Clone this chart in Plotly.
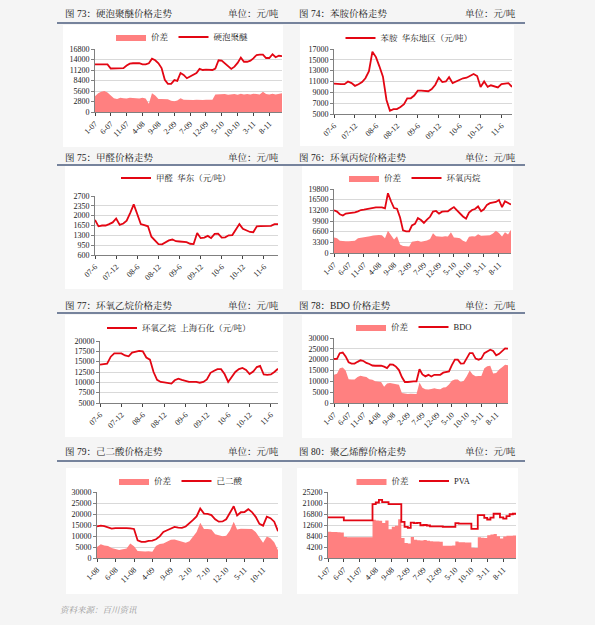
import plotly.graph_objects as go
import pandas as pd

W, H = 595, 625

# ---------------- data (monthly readings, 元/吨) ----------------
c73_line = [12700,12700,12700,12700,12700,11600,11600,11600,11600,11700,
            12400,12900,13000,13000,13000,12700,12700,13000,14200,13800,
            13000,11700,8600,7500,7500,8500,8300,10400,9900,9000,
            9500,9900,10400,11500,11200,11300,11200,11200,11600,13800,
            13700,12900,12200,11500,12100,13100,14500,13400,13400,13700,
            14300,15200,15300,15300,14400,14400,15400,14600,15000,14900]
c73_spread = [4200,5000,5400,5600,5200,4500,3700,3500,3800,3700,
              3600,3800,3700,3700,3600,3800,3600,2200,5000,4400,
              3500,3500,3400,3400,3000,2900,3100,3700,3300,3200,
              3300,3200,3300,3200,3200,3300,3200,3300,4700,4800,
              4700,4800,4600,4700,4800,4600,4900,4700,4800,4700,
              4900,4800,4700,5400,4800,4700,4900,4700,4800,5000]

c74_line = [10600,10500,10500,10500,11000,10700,10200,10500,10900,11600,
            12900,16500,15500,13800,11900,7600,5600,5900,5900,6300,
            6800,7900,7900,8400,9300,9300,9300,9200,9600,10400,
            11700,10900,11000,11800,10700,11000,11300,11600,11700,12000,
            12400,12000,10000,11000,10000,10300,10100,9900,10500,10600,
            10700,10000]

c75_line = [1850,1620,1650,1650,1700,1760,1900,1670,1720,1820,
            2100,2400,2050,1700,1660,1620,1250,1130,990,980,
            1050,1120,1150,1090,1080,1070,1060,1000,990,1380,
            1200,1220,1280,1200,1350,1360,1220,1230,1300,1310,
            1500,1700,1530,1460,1420,1410,1620,1630,1630,1630,
            1640,1700,1700]

c76_line = [13200,12800,12000,11600,12200,12300,12300,12600,12900,13300,
            13400,13600,13600,14000,14100,14100,14100,13800,18500,16000,
            13900,13700,11000,7000,6700,6700,8500,9000,10800,10200,
            9300,10300,11200,12800,13000,12200,12800,12900,12900,13600,
            14200,13200,12200,11300,10600,12500,13300,13600,14400,12900,
            13500,14900,15400,15500,15800,16400,14200,16000,15600,15000]
c76_spread = [4800,4600,3800,3600,3600,3600,3700,3800,4600,4700,
              5000,5100,5200,5400,5600,5600,5500,4600,6900,5400,
              4200,5200,2600,2200,2100,2000,3500,3600,3800,3500,
              3600,3900,4300,6100,5200,5100,5000,5200,5100,6400,
              4800,4700,4600,3800,3400,5000,5200,5100,5800,5300,
              5400,5500,5500,6000,6900,6200,5100,6400,5700,7200]

c77_line = [14300,14400,14500,16200,17000,17000,17000,16500,16300,17200,
            17500,17600,17500,16000,15500,12500,10600,10100,10000,9800,
            9700,10500,10900,10600,10400,10100,10100,10100,9900,10100,
            10700,12300,12800,13200,13200,12000,10100,11400,12500,13200,
            13500,13000,12000,12600,13700,14000,11900,11800,11900,12500,
            13300]

c78_line = [20300,20400,23000,23300,21500,18800,18200,18200,19000,19700,
            19400,18500,18000,17300,17200,17200,17200,16800,16100,17800,
            17700,16800,15200,12000,9700,9700,10000,10000,10000,15600,
            13200,12300,13000,12200,13000,13000,13000,14000,14300,14600,
            17500,20000,20000,18200,18300,20500,23000,23000,20500,20000,
            20500,23000,23800,24600,24000,22000,22700,24000,25200,25100]
c78_spread = [13000,13500,16000,16400,15000,11000,10800,10800,12000,12600,
              12200,12000,11000,10700,10000,9700,9700,7500,9000,9200,
              8900,8700,8400,4600,4200,4100,4300,4100,4200,9500,
              7000,6300,6200,6500,6800,6500,6300,7200,7300,8500,
              10300,10800,10800,9700,10300,12300,15000,13200,12300,12500,
              12500,16000,17000,17200,13600,13800,15500,16500,17700,17400]

c79_line = [14400,14700,14500,13800,13400,13600,13700,13700,13600,13500,
            13200,8000,7300,7300,7800,7900,8500,9800,11800,12600,
            13500,14100,13800,13700,14300,15700,17200,18900,22500,20200,
            20100,19500,17600,16500,16600,17600,20500,23500,19300,20800,
            20900,22200,20900,18700,15500,14700,18800,18100,16500,12200]
c79_spread = [5000,6300,5700,5500,4500,4100,3600,4000,4300,6600,
              5300,3200,3000,3000,3100,2800,5400,6400,6600,7500,
              8300,8400,8000,7400,6900,7600,9800,11800,16000,13200,
              13200,12900,10800,10400,9900,10100,12500,16500,13000,13300,
              13300,13500,13200,11800,9200,6900,9800,9000,7200,3500]

c80_line = [15500,15500,15500,15500,15500,14400,14400,14400,14400,14400,
            14400,14400,14400,14400,20600,21200,22200,21300,21300,20600,
            20600,20600,20600,13800,11900,11500,13500,13300,13400,12500,
            12600,12400,12100,12100,12100,12100,11900,11900,11900,11900,
            13300,13100,13100,13100,13100,11100,11100,16400,16400,15300,
            14700,15400,16900,16900,15500,15000,16000,16700,16900,16500]
c80_spread = [10000,9900,9900,9800,9700,8000,7900,7900,7900,7900,
              7900,7900,7900,7900,14600,14300,14200,13400,14300,11000,
              11900,12300,14800,7600,5700,5500,8000,7000,6800,6700,
              6900,6600,6400,6300,6300,6200,4700,4700,4700,4800,
              6300,6000,6000,5900,5900,3900,3800,7900,7700,7600,
              8700,9000,9200,8300,7400,8200,8500,8500,8600,9100]

titles = ["图 73：硬泡聚醚价格走势", "图 74：苯胺价格走势", "图 75：甲醛价格走势",
          "图 76：环氧丙烷价格走势", "图 77：环氧乙烷价格走势", "图 78：BDO 价格走势",
          "图 79：己二酸价格走势", "图 80：聚乙烯醇价格走势"]
unit_text = "单位：元/吨"
spread_name = "价差"
line_names = ["硬泡聚醚", "苯胺  华东地区（元/吨）", "甲醛  华东（元/吨）", "环氧丙烷",
              "环氧乙烷  上海石化（元/吨）", "BDO", "己二酸", "PVA"]
source_text = "资料来源：百川资讯"

# ---------------- styling ----------------
FONT = "Liberation Serif, Noto Serif CJK SC, Noto Sans CJK SC, serif"
RED = "#e30613"
PINK = "#ff8080"
AXC = "#808080"

def px(x): return x / W
def py(y): return 1 - y / H

charts = [
    dict(line=c73_line, spread=c73_spread, start="2007-01-01", yr=(0, 16800), dy=2800,
         tick0="2007-01-01", dm="M5", fmt="%-m-%y", box=(95, 282, 49, 112), leg=(182, 37), shape="linear"),
    dict(line=c74_line, spread=None, start="2007-06-01", yr=(5000, 17000), dy=2000,
         tick0="2007-06-01", dm="M6", fmt="%y-%-m", box=(334, 512, 49, 114), leg=(409, 38), shape="linear"),
    dict(line=c75_line, spread=None, start="2007-06-01", yr=(600, 2700), dy=350,
         tick0="2007-06-01", dm="M6", fmt="%y-%-m", box=(95, 278, 196, 255), leg=(176, 178), shape="linear"),
    dict(line=c76_line, spread=c76_spread, start="2007-01-01", yr=(0, 19800), dy=3300,
         tick0="2007-01-01", dm="M5", fmt="%-m-%y", box=(334, 511, 189, 253), leg=(415, 178), shape="linear"),
    dict(line=c77_line, spread=None, start="2007-06-01", yr=(5000, 20000), dy=2500,
         tick0="2007-06-01", dm="M6", fmt="%y-%-m", box=(100, 278, 341, 403), leg=(179, 328), shape="linear"),
    dict(line=c78_line, spread=c78_spread, start="2007-01-01", yr=(0, 30000), dy=5000,
         tick0="2007-01-01", dm="M5", fmt="%-m-%y", box=(334, 508, 338, 403), leg=(414, 327), shape="linear"),
    dict(line=c79_line, spread=c79_spread, start="2008-01-01", yr=(0, 30000), dy=5000,
         tick0="2008-01-01", dm="M5", fmt="%-m-%y", box=(97, 278, 492, 558), leg=(181, 481), shape="linear"),
    dict(line=c80_line, spread=c80_spread, start="2007-01-01", yr=(0, 25200), dy=4200,
         tick0="2007-01-01", dm="M5", fmt="%-m-%y", box=(328, 516, 492, 558), leg=(414, 481), shape="hv"),
]

fig = go.Figure()
layout = dict(
    width=W, height=H, autosize=False, margin=dict(l=0, r=0, t=0, b=0, pad=0),
    paper_bgcolor="#f5f5f5", plot_bgcolor="white",
    font=dict(family=FONT, size=8, color="#222"),
    showlegend=True,
)

for i, c in enumerate(charts):
    k = i + 1
    sfx = "" if k == 1 else str(k)
    dates = pd.date_range(c["start"], periods=len(c["line"]), freq="MS")
    leg = "legend" if k == 1 else f"legend{k}"
    if c["spread"] is not None:
        fig.add_trace(go.Scatter(
            x=dates, y=c["spread"], name=spread_name, mode="lines",
            line=dict(width=0, color=PINK, shape=c["shape"]), fill="tozeroy", fillcolor=PINK,
            xaxis=f"x{sfx}", yaxis=f"y{sfx}", legend=leg))
    fig.add_trace(go.Scatter(
        x=dates, y=c["line"], name=line_names[i], mode="lines",
        line=dict(width=1.8, color=RED, shape=c["shape"]),
        xaxis=f"x{sfx}", yaxis=f"y{sfx}", legend=leg))

    x0, x1, y0, y1 = c["box"]
    layout[f"xaxis{sfx}"] = dict(
        domain=[px(x0), px(x1)], anchor=f"y{sfx}", type="date", automargin=False,
        range=[dates[0], dates[-1]], tick0=c["tick0"], dtick=c["dm"], tickformat=c["fmt"],
        tickangle=-45, showline=True, linecolor=AXC, linewidth=1, ticks="outside",
        ticklen=3, tickcolor="#444", showgrid=False, zeroline=False,
        tickfont=dict(size=8, family=FONT, color="#222"))
    layout[f"yaxis{sfx}"] = dict(
        domain=[py(y1), py(y0)], anchor=f"x{sfx}", range=list(c["yr"]), automargin=False,
        tick0=c["yr"][0], dtick=c["dy"], tickformat="d",
        showline=True, linecolor=AXC, linewidth=1, ticks="outside", ticklen=3,
        tickcolor=AXC, showgrid=True, gridcolor="#d9d9d9", gridwidth=1, zeroline=False,
        tickfont=dict(size=8, family=FONT, color="#222"))
    lx, ly = c["leg"]
    layout[leg] = dict(
        x=px(lx), y=py(ly), xanchor="center", yanchor="middle", orientation="h",
        bgcolor="rgba(0,0,0,0)", font=dict(size=8.5, family=FONT, color="#222"),
        itemwidth=30, tracegroupgap=0, traceorder="normal")

# panels, title rules
shapes = []
panels = [(63, 283, 25, 147), (300, 514, 25, 146),
          (65, 283, 166, 289), (302, 513, 166, 290),
          (65, 283, 315, 437), (302, 512, 315, 438),
          (66, 282, 468, 594), (297, 518, 468, 594)]
for (a, b, t, u) in panels:
    shapes.append(dict(type="rect", xref="paper", yref="paper", x0=px(a), x1=px(b),
                       y0=py(u), y1=py(t), fillcolor="white", line=dict(width=0), layer="below"))
for yl in [23, 165, 313, 461]:
    shapes.append(dict(type="line", xref="paper", yref="paper", x0=px(57), x1=px(525),
                       y0=py(yl), y1=py(yl), line=dict(color="#4b5d7e", width=1.5)))
layout["shapes"] = shapes

ann = []
row_y = [14, 157, 305, 452]
for i, t in enumerate(titles):
    r, col = i // 2, i % 2
    tx = 63 if col == 0 else 297
    ux = 281 if col == 0 else 518
    ann.append(dict(text=t, x=px(tx), y=py(row_y[r]), xref="paper", yref="paper",
                    xanchor="left", yanchor="middle", showarrow=False,
                    font=dict(size=9.5, family=FONT, color="#222")))
    ann.append(dict(text=unit_text, x=px(ux), y=py(row_y[r]), xref="paper", yref="paper",
                    xanchor="right", yanchor="middle", showarrow=False,
                    font=dict(size=9.5, family=FONT, color="#222")))
ann.append(dict(text="<i>" + source_text + "</i>", x=px(58), y=py(610), xref="paper", yref="paper",
                xanchor="left", yanchor="middle", showarrow=False,
                font=dict(size=8.5, family=FONT, color="#999")))
layout["annotations"] = ann

fig.update_layout(**layout)
fig.write_html("out.html",
               config={"displayModeBar": False},
               post_script="document.body.style.margin='0';document.body.style.padding='0';"
                           "document.documentElement.style.overflow='hidden';")
